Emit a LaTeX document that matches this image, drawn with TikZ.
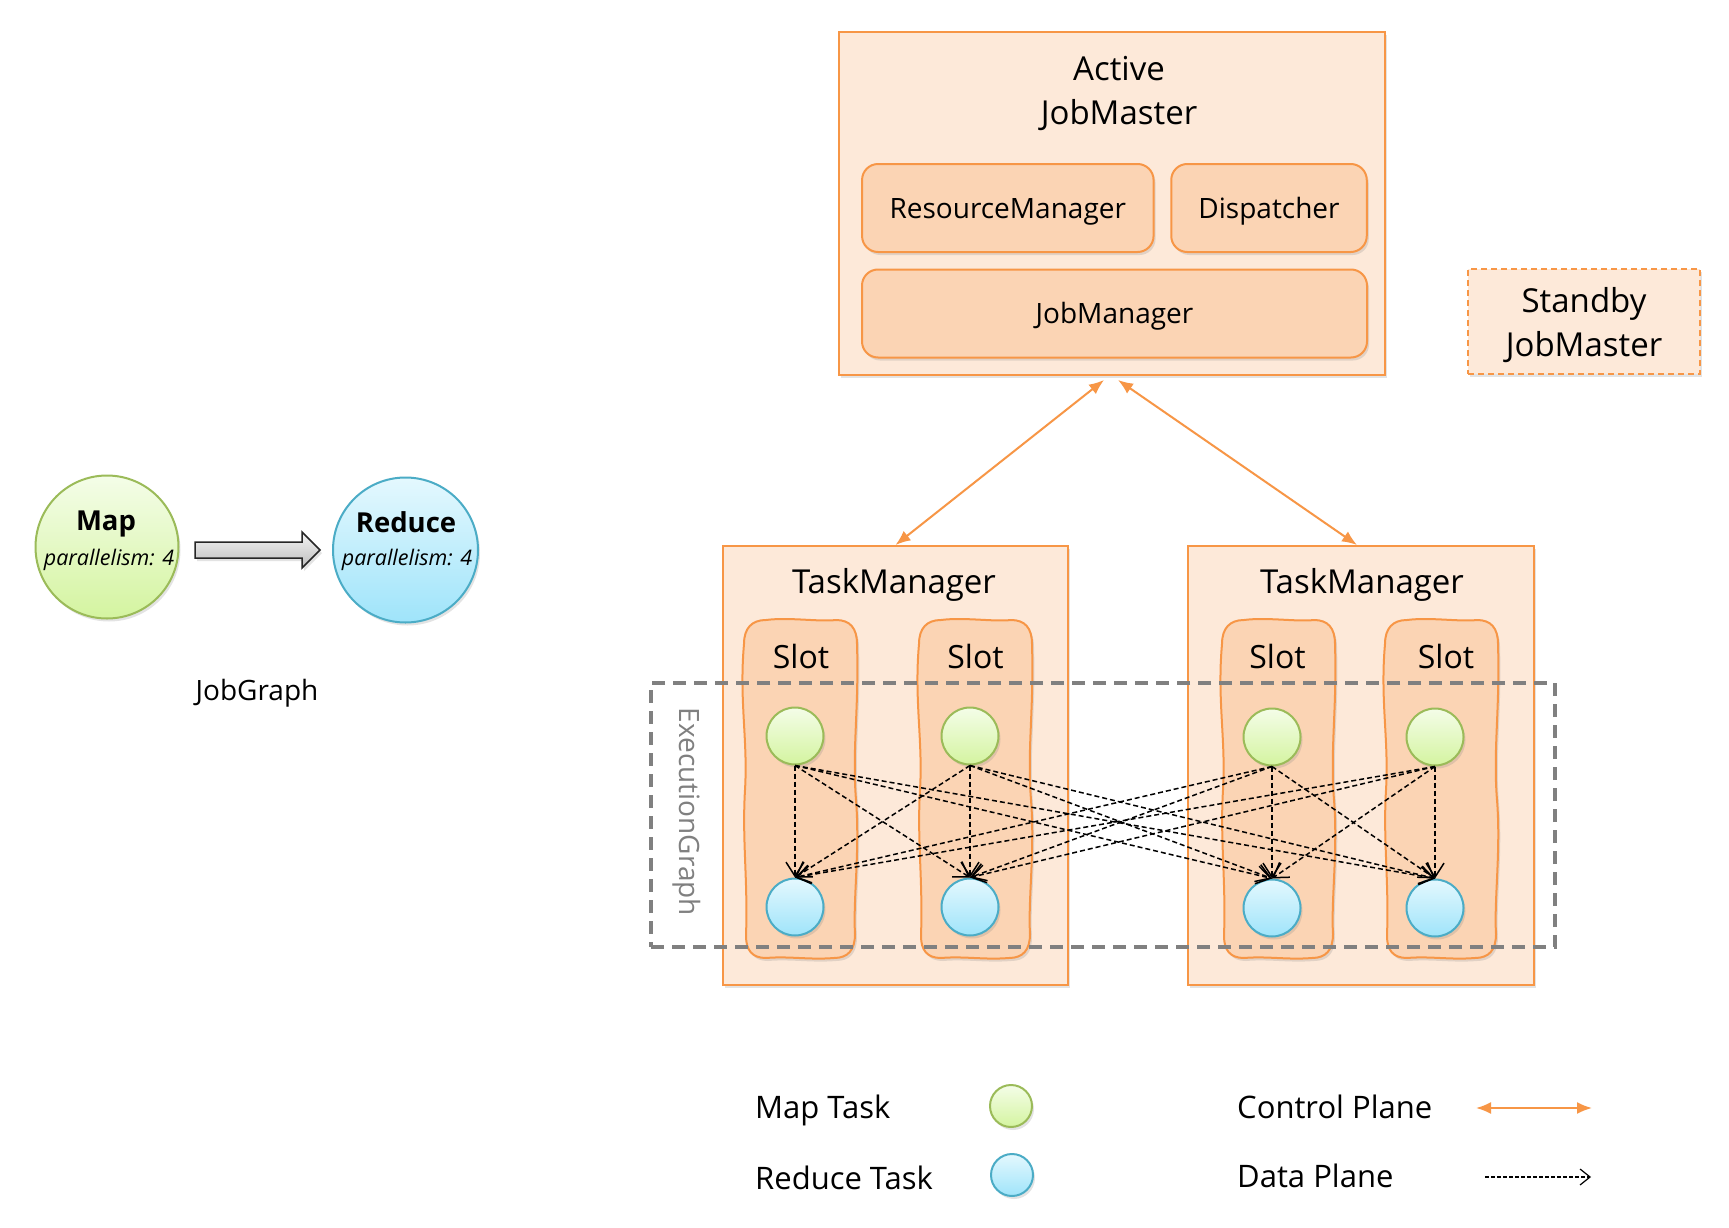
\documentclass[tikz,border=0pt]{standalone}
\usepackage{fontspec}
\setmainfont{Open Sans}
\usetikzlibrary{arrows.meta,shadows,calc,shapes.geometric}
\definecolor{tmfill}{HTML}{FDE9D9}
\definecolor{slotfill}{HTML}{FBD4B4}
\definecolor{orng}{HTML}{F79646}
\definecolor{gtop}{HTML}{F4FDE8}
\definecolor{gbot}{HTML}{D4F4A0}
\definecolor{gline}{HTML}{9BBB59}
\definecolor{btop}{HTML}{E4F8FE}
\definecolor{bbot}{HTML}{9FE4FA}
\definecolor{bline}{HTML}{4BACC6}
\definecolor{egray}{HTML}{808080}
\definecolor{artop}{HTML}{F4F4F4}
\definecolor{arbot}{HTML}{BDBDBD}
\newcommand\fbig{\fontsize{33}{44}\selectfont}
\newcommand\fmid{\fontsize{28}{34}\selectfont}
\newcommand\fslot{\fontsize{32}{38}\selectfont}
\newcommand\fleg{\fontsize{31}{37}\selectfont}
\newcommand\fpar{\fontsize{21.5}{26}\selectfont\itshape}
\newcommand\fbold{\fontsize{27.5}{33}\selectfont\bfseries}
\newcommand\myslot[2]{%
 \begin{scope}[shift={(#1,#2)}]
 \path[slotsh] (22,0) .. controls (45,-3) and (75,2) .. (92,0)
   .. controls (106,0) and (113,8) .. (113,24)
   .. controls (115,90) and (108,130) .. (112,180)
   .. controls (116,230) and (109,280) .. (111,314)
   .. controls (111,330) and (104,338) .. (90,338)
   .. controls (65,340) and (45,336) .. (22,338)
   .. controls (8,338) and (2,330) .. (2,316)
   .. controls (4,260) and (-2,220) .. (1,170)
   .. controls (4,120) and (-5,80) .. (0,24)
   .. controls (0,8) and (8,0) .. (22,0) -- cycle;
 \end{scope}}
\begin{document}
\begin{tikzpicture}[x=1pt,y=-1pt,
  shd/.style={drop shadow={shadow xshift=2pt,shadow yshift=-3pt,opacity=0.22}},
  outer/.style={draw=orng,fill=tmfill,line width=2pt,shd,inner sep=0pt},
  innerbox/.style={draw=orng,fill=slotfill,line width=2pt,rounded corners=16pt,shd,font=\fmid,text height=20pt,text depth=0pt,inner sep=0pt},
  slotsh/.style={draw=orng,fill=slotfill,line width=2pt,shd},
  mapc/.style={circle,draw=gline,line width=2pt,top color=gtop,bottom color=gbot,shd,inner sep=0pt,minimum size=#1},
  redc/.style={circle,draw=bline,line width=2pt,top color=btop,bottom color=bbot,shd,inner sep=0pt,minimum size=#1},
  ctrl/.style={draw=orng,line width=2pt,{Latex[length=15pt,width=12pt]}-{Latex[length=15pt,width=12pt]}},
  data/.style={draw=black,line width=1.5pt,dash pattern=on 5pt off 3pt,-{Straight Barb[length=14pt,width=18pt]}},
]
\fill[white] (0,0) rectangle (1729,1228);
\useasboundingbox (0,0) rectangle (1729,1228);

% Active JobMaster
\node[outer,minimum width=546pt,minimum height=343pt] (jm) at (1112,203.5) {};
\node[font=\fbig,align=center,inner sep=0pt] (jmt) at (1119,93) {Active\\JobMaster};
\node[innerbox,minimum width=291.5pt,minimum height=88pt] (rm) at (1007.8,208) {ResourceManager};
\node[innerbox,minimum width=195.5pt,minimum height=88pt] (disp) at (1269,208) {Dispatcher};
\node[innerbox,minimum width=505pt,minimum height=88pt] (jmgr) at (1114.5,313.5) {JobManager};

% Standby
\node[draw=orng,line width=2pt,dash pattern=on 6pt off 4pt,fill=tmfill,shd,minimum width=232pt,minimum height=105pt,font=\fbig,align=center,inner sep=0pt] (sb) at (1584,321.5) {};
\node[font=\fbig,align=center,inner sep=0pt] (sbt) at (1584,325) {Standby\\JobMaster};

% TaskManagers
\node[outer,minimum width=345pt,minimum height=439pt] (tm1) at (895.5,765.5) {};
\node[outer,minimum width=346pt,minimum height=439pt] (tm2) at (1361,765.5) {};
\node[font=\fbig,anchor=base,inner sep=0pt] (tm1t) at (894,593) {TaskManager};
\node[font=\fbig,anchor=base,inner sep=0pt] (tm2t) at (1362,593) {TaskManager};

% Slots
\myslot{744}{620}
\myslot{919}{620}
\myslot{1222}{620}
\myslot{1385}{620}
\node[font=\fslot,anchor=base,inner sep=0pt] (s1t) at (801,668.5) {Slot};
\node[font=\fslot,anchor=base,inner sep=0pt] (s2t) at (975.5,668.5) {Slot};
\node[font=\fslot,anchor=base,inner sep=0pt] (s3t) at (1277.5,668.5) {Slot};
\node[font=\fslot,anchor=base,inner sep=0pt] (s4t) at (1446,668.5) {Slot};

% ExecutionGraph
\node[draw=egray,line width=3.2pt,dash pattern=on 13pt off 8pt,minimum width=904pt,minimum height=264pt,inner sep=0pt] (eg) at (1103,815) {};
\node[rotate=-90,text=egray,font=\fmid,inner sep=0pt] (egt) at (687,812) {ExecutionGraph};

% tasks
\node[mapc=57pt] (m1) at (795,736) {};
\node[mapc=57pt] (m2) at (970,736) {};
\node[mapc=57pt] (m3) at (1272,737) {};
\node[mapc=57pt] (m4) at (1435,737) {};
\node[redc=57pt] (r1) at (795,907) {};
\node[redc=57pt] (r2) at (970,907) {};
\node[redc=57pt] (r3) at (1272,908) {};
\node[redc=57pt] (r4) at (1435,908) {};

\foreach \i in {1,...,4}{\foreach \j in {1,...,4}{\draw[data] (m\i.south) -- (r\j.north);}}

% control plane
\draw[ctrl] ($(jm.south)+(-8,4)$) -- (tm1.north);
\draw[ctrl] ($(jm.south)+(6,4)$) -- ($(tm2.north)+(-4,0)$);

% JobGraph
\node[mapc=143pt] (mapj) at (107,547) {};
\node[redc=145pt] (redj) at (405.5,550) {};
\node[font=\fbold,anchor=base,inner sep=0pt] (mapt) at (106,530) {Map};
\node[font=\fpar,anchor=base,inner sep=0pt] (mapp) at (109,565) {parallelism: 4};
\node[font=\fbold,anchor=base,inner sep=0pt] (redt) at (406,532.5) {Reduce};
\node[font=\fpar,anchor=base,inner sep=0pt] (redp) at (407,565) {parallelism: 4};
\coordinate (ba) at ($(mapj.east)+(15.5,3)$);
\coordinate (bb) at ($(redj.west)+(-12,0)$);
\path[draw=black!85,line width=1.5pt,top color=artop,bottom color=arbot,shd]
  ($(ba)+(0,-8)$) -- ($(bb)+(-18,-8)$) -- ($(bb)+(-18,-18)$) -- (bb)
  -- ($(bb)+(-18,18)$) -- ($(bb)+(-18,8)$) -- ($(ba)+(0,8)$) -- cycle;
\node[font=\fmid,anchor=base,inner sep=0pt] (jg) at (257,700) {JobGraph};

% Legend
\node[font=\fleg,anchor=base west,inner sep=0pt] (lmap) at (755,1118) {Map Task};
\node[mapc=42pt] (lmapc) at (1011,1106) {};
\node[font=\fleg,anchor=base west,inner sep=0pt] (lred) at (755,1189) {Reduce Task};
\node[redc=42pt] (lredc) at (1012,1175) {};
\node[font=\fleg,anchor=base west,inner sep=0pt] (lcp) at (1237,1118) {Control Plane};
\coordinate (cpa) at (1476,1108);
\coordinate (cpb) at (1592,1108);
\draw[ctrl] (cpa) -- (cpb);
\node[font=\fleg,anchor=base west,inner sep=0pt] (ldp) at (1237,1187) {Data Plane};
\coordinate (dpa) at (1485,1177);
\coordinate (dpb) at (1591,1177);
\draw[black,line width=1.2pt,dash pattern=on 4pt off 2pt,-{Straight Barb[length=10pt,width=16pt]}] (dpa) -- (dpb);
\end{tikzpicture}
\end{document}
